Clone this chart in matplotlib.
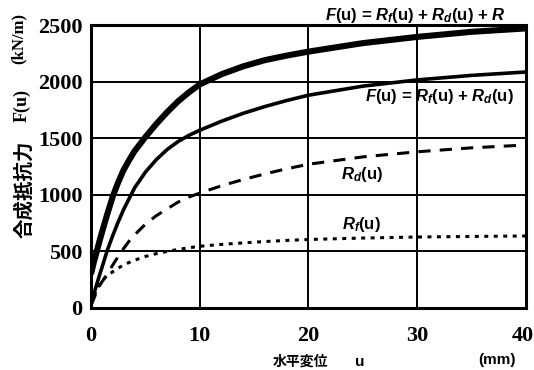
import matplotlib
matplotlib.use("Agg")
import matplotlib.pyplot as plt
import matplotlib.transforms as mtransforms

plt.rcParams["mathtext.fontset"] = "custom"
plt.rcParams["mathtext.it"] = "Liberation Sans:italic:bold"
plt.rcParams["mathtext.rm"] = "Liberation Sans:bold"

# horizontal displacement u (mm)
u = [0, 0.25, 0.5, 0.75, 1, 1.5, 2, 2.5, 3, 3.5, 4, 5, 6, 7, 8, 9, 10,
     12, 14, 16, 18, 20, 25, 30, 35, 40]
# resistance components (kN/m)
r_total = [300, 400, 490, 580, 665, 830, 985, 1110, 1220, 1305, 1385, 1510,
           1625, 1730, 1825, 1905, 1975, 2065, 2135, 2190, 2230, 2265,
           2340, 2395, 2440, 2470]
f_u = [40, 120, 200, 280, 355, 510, 640, 760, 870, 965, 1060, 1200,
       1310, 1400, 1470, 1525, 1570, 1650, 1720, 1780, 1833, 1880,
       1960, 2015, 2055, 2085]
r_d = [20, 80, 140, 190, 230, 300, 380, 455, 525, 590, 645, 740,
       815, 875, 935, 980, 1015, 1080, 1135, 1185, 1230, 1270,
       1335, 1380, 1415, 1440]
r_f = [30, 100, 150, 200, 240, 285, 320, 352, 380, 402, 422, 455,
       480, 500, 517, 532, 545, 562, 575, 587, 597, 605,
       618, 627, 632, 636]

xticks = [0, 10, 20, 30, 40]
yticks = [0, 500, 1000, 1500, 2000, 2500]

fig = plt.figure(figsize=(5.34, 3.70), dpi=100)
ax = fig.add_axes([0.1704, 0.1676, 0.8146, 0.7648])

ax.plot(u, r_total, color="black", lw=4.4, solid_capstyle="butt",
        solid_joinstyle="round", zorder=3)
ax.plot(u, f_u, color="black", lw=2.6, solid_joinstyle="round", zorder=3)
ax.plot(u, r_d, color="black", lw=2.2, linestyle=(0, (4, 3)), zorder=3)
ax.plot(u, r_f, color="black", lw=2.2, linestyle=(0, (1.3, 1.8)), zorder=3)

ax.set_xlim(0, 40)
ax.set_ylim(0, 2500)
ax.set_xticks(xticks)
ax.set_yticks(yticks)
ax.grid(True, color="black", lw=1.4)
ax.set_axisbelow(True)
for s in ax.spines.values():
    s.set_linewidth(2.2)

tick_font = dict(family="Liberation Serif", weight="bold", size=16)
ax.set_xticklabels([str(v) for v in xticks], **tick_font)
ax.set_yticklabels([str(v) for v in yticks], **tick_font)
ax.tick_params(length=0)
ax.tick_params(axis="x", pad=13)
ax.tick_params(axis="y", pad=6)

# keep the last x label inside the figure
last = ax.get_xticklabels()[-1]
last.set_horizontalalignment("right")
last.set_transform(last.get_transform() +
                   mtransforms.ScaledTranslation(8 / 100, 0, fig.dpi_scale_trans))

# curve labels
lab = dict(fontsize=12, ha="center", va="center", fontweight="bold",
           family="Liberation Sans")
ax.text(29.8, 2585, r"$F$(u) = $R_f$(u) + $R_d$(u) + $R$", clip_on=False, **lab)
ax.text(32.0, 1865, r"$F$(u) = $R_f$(u) + $R_d$(u)", **lab)
ax.text(24.9, 1180, r"$R_d$(u)", **lab)
ax.text(24.9, 735, r"$R_f$(u)", **lab)

# axis titles
cjk = ["Noto Sans CJK JP", "DejaVu Sans"]
fig.text(24 / 534, 1 - 189 / 370, "合成抵抗力", rotation=90, ha="center",
         va="center", family=cjk, fontweight="bold", fontsize=14)
fig.text(22 / 534, 1 - 106 / 370, "F(u)", rotation=90, ha="center",
         va="center", family="Liberation Serif", fontweight="bold", fontsize=13)
fig.text(19 / 534, 1 - 38 / 370, "(kN/m)", rotation=90, ha="center",
         va="center", family="Liberation Serif", fontweight="bold", fontsize=12)
fig.text(300 / 534, 1 - 362 / 370, "水平変位", ha="center", va="center",
         family=cjk, fontweight="bold", fontsize=10)
fig.text(360 / 534, 1 - 362 / 370, "u", ha="center", va="center",
         family="Liberation Sans", fontweight="bold", fontsize=11)
fig.text(497 / 534, 1 - 360 / 370, "(mm)", ha="center", va="center",
         family="Liberation Sans", fontweight="bold", fontsize=11)

fig.savefig("out.png", dpi=100)
